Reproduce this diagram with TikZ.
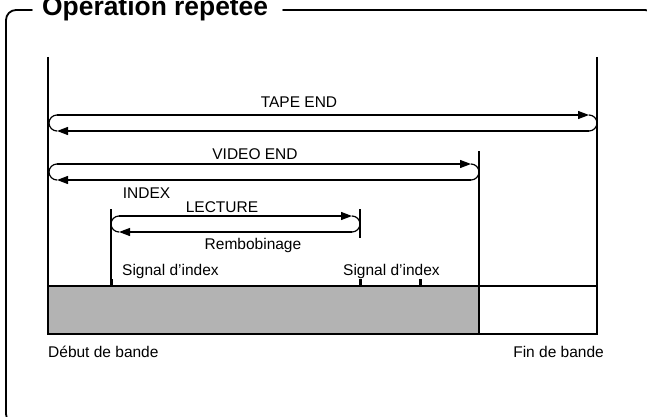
\documentclass[tikz,border=0pt]{standalone}
\usepackage{fontspec}
\setmainfont{Liberation Sans}
\usetikzlibrary{arrows.meta}
\definecolor{tapegray}{RGB}{179,179,179}
\tikzset{
  lbl/.style={inner sep=0pt, anchor=base, font=\fontsize{15.5}{18}\selectfont},
  frameline/.style={line width=1.8pt, line cap=round},
  guide/.style={line width=1.4pt},
  loopline/.style={line width=1.2pt},
  arr/.style={loopline, -{Triangle[length=11pt,width=8pt]}},
  marker/.style={fill=black, draw=none},
}
\begin{document}
\begin{tikzpicture}[x=1pt,y=-1pt]
\useasboundingbox (0,0) rectangle (647,417);
\clip (0,0) rectangle (647,417);
% frame
\node[inner sep=0pt, anchor=base west, font=\fontsize{26.4}{30}\selectfont\bfseries] (title) at (42,16) {Opération répetée};
\draw[frameline] (32,10) -- (16,10) arc[start angle=90,end angle=180,radius=10pt] -- (6,414) arc[start angle=180,end angle=270,radius=10pt] -- (660,424);
\draw[frameline] (283,10) -- (645,10) arc[start angle=90,end angle=0,radius=10pt] -- (655,430);
% tape
\coordinate (tl) at (48,286);
\coordinate (br) at (597,334);
\coordinate (vt) at (479,286);
\coordinate (vb) at (479,334);
\fill[tapegray] (tl) rectangle (vb);
\draw[guide] (tl) rectangle (br);
\draw[guide] (vt) -- (vb);
% vertical guides
\coordinate (L0) at (48,57);
\coordinate (R0) at (597,57);
\coordinate (R1) at (597,286);
\coordinate (V0) at (479,151);
\coordinate (I0) at (111,209);
\coordinate (I1) at (111,286);
\coordinate (E0) at (360,209);
\coordinate (E1) at (360,238);
\draw[guide] (L0) -- (tl);
\draw[guide] (R0) -- (R1);
\draw[guide] (V0) -- (vt);
\draw[guide] (I0) -- (I1);
\draw[guide] (E0) -- (E1);
% index markers
\fill[marker] (109.5,279) rectangle (113,286);
\fill[marker] (358.5,279) rectangle (362,286);
\fill[marker] (418.5,279) rectangle (422,286);
% TAPE END loop
\coordinate (ta) at (57,115);
\coordinate (tb) at (589,115);
\coordinate (tc) at (589,131);
\coordinate (td) at (57,131);
\draw[arr] (ta) -- (tb);
\draw[loopline] (tb) arc[start angle=90,end angle=-90,radius=8pt];
\draw[arr] (tc) -- (td);
\draw[loopline] (td) arc[start angle=270,end angle=90,radius=8pt];
% VIDEO END loop
\coordinate (va) at (57,164);
\coordinate (vb2) at (471,164);
\coordinate (vc) at (471,180);
\coordinate (vd) at (57,180);
\draw[arr] (va) -- (vb2);
\draw[loopline] (vb2) arc[start angle=90,end angle=-90,radius=8pt];
\draw[arr] (vc) -- (vd);
\draw[loopline] (vd) arc[start angle=270,end angle=90,radius=8pt];
% LECTURE loop
\coordinate (la) at (119,216);
\coordinate (lb) at (352,216);
\coordinate (lc) at (352,232);
\coordinate (ld) at (119,232);
\draw[arr] (la) -- (lb);
\draw[loopline] (lb) arc[start angle=90,end angle=-90,radius=8pt];
\draw[arr] (lc) -- (ld);
\draw[loopline] (ld) arc[start angle=270,end angle=90,radius=8pt];
% labels
\node[lbl] (tapeend) at (299,108) {TAPE END};
\node[lbl] (videoend) at (255,159) {VIDEO END};
\node[lbl] (index) at (146.5,198) {INDEX};
\node[lbl] (lecture) at (222,212) {LECTURE};
\node[lbl] (remb) at (253,249) {Rembobinage};
\node[lbl, anchor=base west] (sig1) at (122,275) {Signal d’index};
\node[lbl, anchor=base west] (sig2) at (343,275) {Signal d’index};
\node[lbl, anchor=base west] (debut) at (48,357) {Début de bande};
\node[lbl, anchor=base east] (fin) at (604,357) {Fin de bande};
\end{tikzpicture}
\end{document}
